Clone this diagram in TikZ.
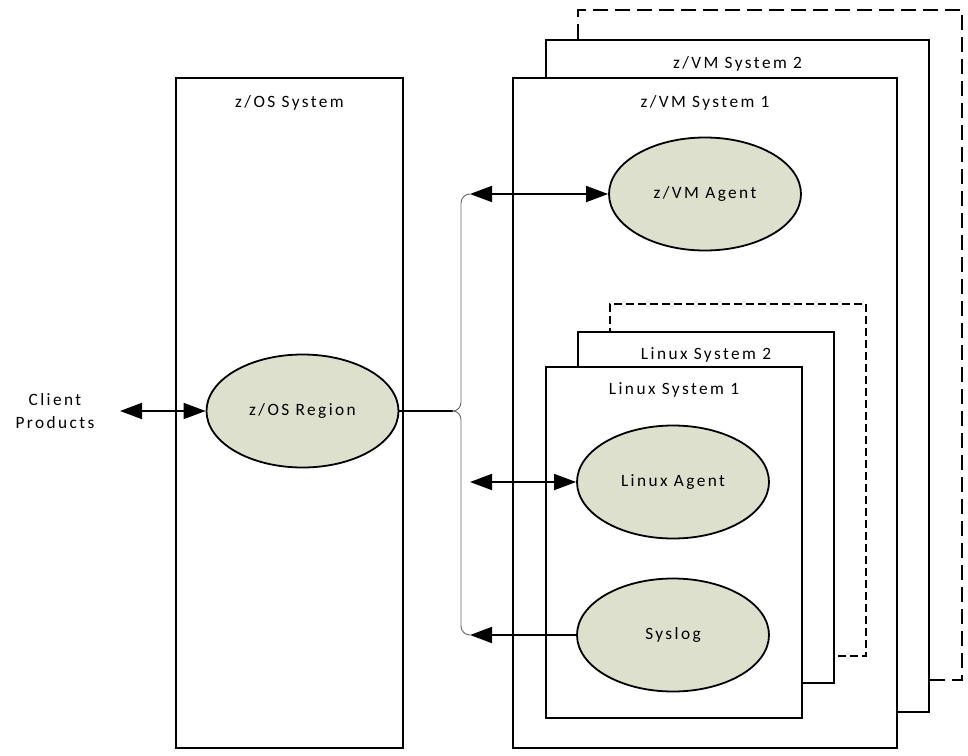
\documentclass[tikz,border=0pt]{standalone}
\usepackage{fontspec}
\setmainfont{Carlito}[LetterSpace=14]
\usepackage{tikz}
\usetikzlibrary{arrows.meta,shapes.geometric,calc}
\definecolor{agentfill}{RGB}{221,224,204}
\newcommand{\boxfont}{\fontsize{17.3}{21}\selectfont}

\begin{document}
\begin{tikzpicture}[x=1pt,y=-1pt]
\tikzstyle{sysbox}=[rectangle, draw=black, line width=1.8pt, fill=white, inner sep=0pt]
\tikzstyle{dashbox}=[rectangle, draw=black, line width=2.6pt, inner sep=0pt]
\tikzstyle{agent}=[ellipse, draw=black, line width=1.8pt, fill=agentfill, minimum width=192pt, minimum height=113pt, font=\boxfont]
\tikzstyle{title}=[font=\boxfont, inner sep=0pt]
\tikzstyle{connect}=[{Triangle[length=22pt,width=16pt]}-{Triangle[length=22pt,width=16pt]}, line width=1.8pt]
\tikzstyle{oneway}=[-{Triangle[length=22pt,width=16pt]}, line width=1.8pt]
\tikzstyle{bracket}=[draw=black!60, line width=0.9pt]

  \useasboundingbox (0,0) rectangle (968,755);

  % z/VM systems, back to front
  \node[dashbox, dash pattern=on 15pt off 7pt, minimum width=384pt, minimum height=670pt] (vm3) at (770,345) {};
  \node[sysbox, minimum width=383pt, minimum height=672pt] (vm2) at (737.5,376) {};
  \node[title] at ($(vm2.north)+(0,25)$) {z/VM System 2};
  \node[sysbox, minimum width=384pt, minimum height=670pt] (vm1) at (705,413) {};
  \node[title] at ($(vm1.north)+(0,26)$) {z/VM System 1};

  % z/OS system
  \node[sysbox, minimum width=227pt, minimum height=670pt] (zos) at (289.5,413) {};
  \node[title] at ($(zos.north)+(0,26)$) {z/OS System};

  % Linux systems, back to front
  \node[dashbox, line width=2.2pt, dash pattern=on 8pt off 4pt, minimum width=256pt, minimum height=352pt] (lx3) at (738,480) {};
  \node[sysbox, minimum width=256pt, minimum height=351pt] (lx2) at (706,507.5) {};
  \node[title] at ($(lx2.north)+(0,24)$) {Linux System 2};
  \node[sysbox, minimum width=256pt, minimum height=351pt] (lx1) at (674,542.5) {};
  \node[title] at ($(lx1.north)+(0,24)$) {Linux System 1};

  % agents
  \node[agent] (zosregion) at (302.5,411) {z/OS Region};
  \node[agent] (vmagent)   at (705,194)   {z/VM Agent};
  \node[agent] (lxagent)   at (673,482)   {Linux Agent};
  \node[agent] (syslog)    at (673,635)   {Syslog};

  \node[title, align=center, font=\boxfont\linespread{1.1}\selectfont] (client) at (55,411) {Client\\Products};

  \coordinate (clientend) at (120,411);
  \coordinate (bracetip)  at (453,411);
  \coordinate (bracetop)  at (470,194);
  \coordinate (bracebot)  at (470,635);
  \coordinate (lxend)     at (470,482);

  % connectors
  \draw[connect] (clientend) -- (zosregion.west);
  \draw[line width=1.8pt] (zosregion.east) -- (bracetip);
  \draw[bracket] (bracetop) to[out=180,in=90] (461,203) -- (461,402)
                 to[out=270,in=0] (bracetip)
                 to[out=0,in=90] (461,420) -- (461,626)
                 to[out=270,in=180] (bracebot);
  \draw[connect] (bracetop) -- (vmagent.west);
  \draw[connect] (lxend) -- (lxagent.west);
  \draw[oneway] (syslog.west) -- (bracebot);

\end{tikzpicture}
\end{document}
